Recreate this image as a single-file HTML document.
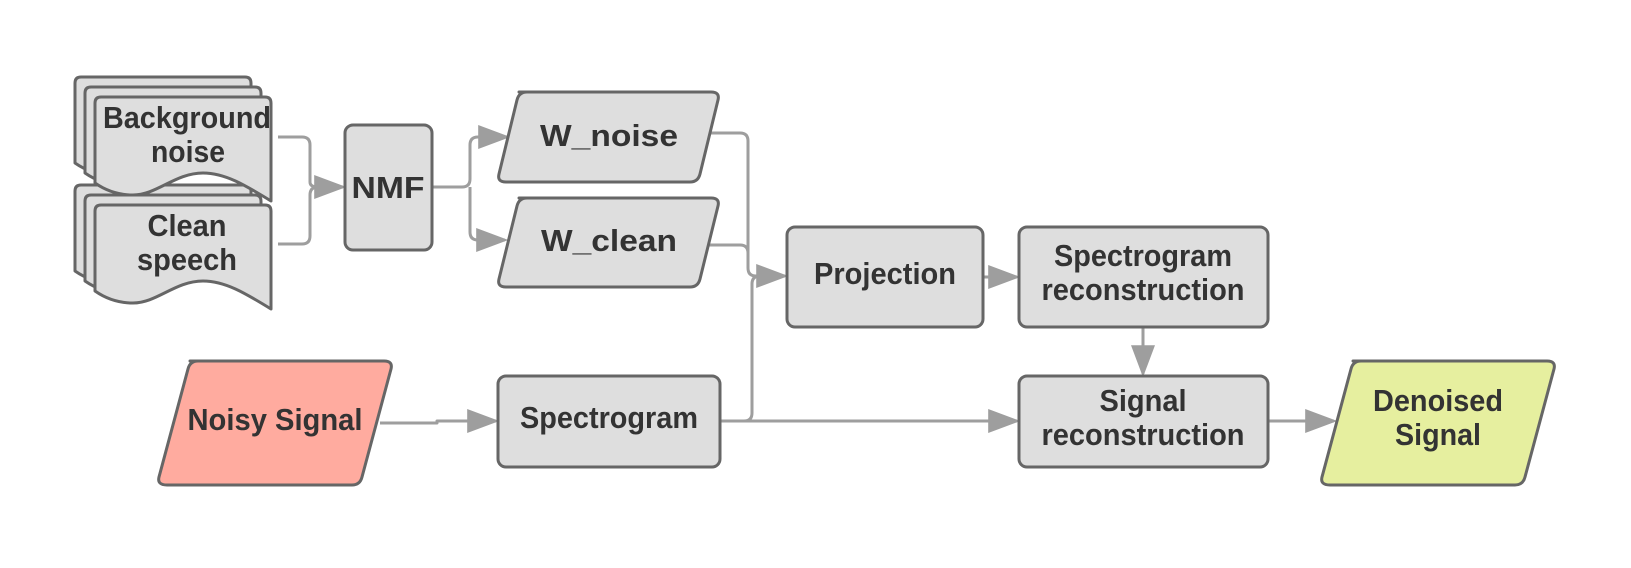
<!DOCTYPE html>
<html><head><meta charset="utf-8"><style>
html,body{margin:0;padding:0;background:#fff}
svg text{font-family:"Liberation Sans",sans-serif;font-weight:bold;fill:#333;font-size:31px;text-anchor:middle}
</style></head><body>
<svg width="1631" height="563" viewBox="0 0 1631 563" xmlns="http://www.w3.org/2000/svg">
<defs>
<marker id="b" viewBox="0 0 10 10" refX="9" refY="5" markerWidth="32" markerHeight="24" markerUnits="userSpaceOnUse" orient="auto" preserveAspectRatio="none">
<path d="M0,0 L10,5 L0,10 z" fill="#9e9e9e"/></marker>
<g id="doc"><path d="M0,6 Q0,0 6,0 H170 Q176,0 176,6 V104 C150,88 130,76 108,76 C80,76 62,98 38,98 C22,98 10,93 0,86 Z"/></g>
</defs>
<g fill="none" stroke="#9e9e9e" stroke-width="3" stroke-linejoin="round">
<path d="M278,137 H302 Q310,137 310,145 V182 Q310,187 318,187 H343" marker-end="url(#b)"/>
<path d="M278,244 H302 Q310,244 310,236 V195 Q310,187 318,187"/>
<path d="M432,187 H462 Q470,187 470,179 V145 Q470,137 478,137 H507" marker-end="url(#b)"/>
<path d="M470,187 V232 Q470,240 478,240 H505" marker-end="url(#b)"/>
<path d="M708,133 H740 Q748,133 748,141 V268 Q748,276 756,276 H785" marker-end="url(#b)"/>
<path d="M708,245 H740 Q748,245 748,253 V268"/>
<path d="M720,421 H744 Q752,421 752,413 V284 Q752,276 760,276"/>
<path d="M720,421 H1017" marker-end="url(#b)"/>
<path d="M380,423 H437 V421 H496" marker-end="url(#b)"/>
<path d="M983,277 H1017" marker-end="url(#b)"/>
<path d="M1143,327 V374" marker-end="url(#b)"/>
<path d="M1268,421 H1334" marker-end="url(#b)"/>
</g>
<g fill="#dedede" stroke="#666" stroke-width="3" stroke-linejoin="round">
<use href="#doc" x="75" y="185"/><use href="#doc" x="85" y="195"/><use href="#doc" x="95" y="205"/>
<use href="#doc" x="75" y="77"/><use href="#doc" x="85" y="87"/><use href="#doc" x="95" y="97"/>
<rect x="345" y="125" width="87" height="125" rx="8"/>
<path d="M519,92 H711 Q720,92 718,100 L700,174 Q698,182 690,182 H506 Q497,182 499,174 L517,100 Q519,92 527,92Z"/>
<path d="M519,198 H711 Q720,198 718,206 L700,279 Q698,287 690,287 H506 Q497,287 499,279 L517,206 Q519,198 527,198Z"/>
<rect x="787" y="227" width="196" height="100" rx="8"/>
<rect x="1019" y="227" width="249" height="100" rx="8"/>
<rect x="1019" y="376" width="249" height="91" rx="8"/>
<rect x="498" y="376" width="222" height="91" rx="8"/>
<path fill="#ffab9f" d="M190,361 H384 Q393,361 391,369 L362,477 Q360,485 352,485 H167 Q157,485 159,477 L188,369 Q190,361 198,361Z"/>
<path fill="#e6ef9f" d="M1353,361 H1547 Q1556,361 1554,369 L1525,477 Q1523,485 1515,485 H1330 Q1320,485 1322,477 L1351,369 Q1353,361 1361,361Z"/>
</g>
<g lengthAdjust="spacingAndGlyphs">
<text x="187" y="128" textLength="168" lengthAdjust="spacingAndGlyphs">Background</text>
<text x="188" y="162" textLength="74" lengthAdjust="spacingAndGlyphs">noise</text>
<text x="187" y="236" textLength="79" lengthAdjust="spacingAndGlyphs">Clean</text>
<text x="187" y="270" textLength="100" lengthAdjust="spacingAndGlyphs">speech</text>
<text x="388" y="198" font-size="33" textLength="73" lengthAdjust="spacingAndGlyphs">NMF</text>
<text x="609" y="146" font-size="33" textLength="138" lengthAdjust="spacingAndGlyphs">W_noise</text>
<text x="609" y="251" font-size="33" textLength="136" lengthAdjust="spacingAndGlyphs">W_clean</text>
<text x="885" y="284" textLength="142" lengthAdjust="spacingAndGlyphs">Projection</text>
<text x="1143" y="266" textLength="178" lengthAdjust="spacingAndGlyphs">Spectrogram</text>
<text x="1143" y="300" textLength="203" lengthAdjust="spacingAndGlyphs">reconstruction</text>
<text x="1143" y="411" textLength="87" lengthAdjust="spacingAndGlyphs">Signal</text>
<text x="1143" y="445" textLength="203" lengthAdjust="spacingAndGlyphs">reconstruction</text>
<text x="609" y="428" textLength="178" lengthAdjust="spacingAndGlyphs">Spectrogram</text>
<text x="275" y="430" textLength="175" lengthAdjust="spacingAndGlyphs">Noisy Signal</text>
<text x="1438" y="411" textLength="130" lengthAdjust="spacingAndGlyphs">Denoised</text>
<text x="1438" y="445" textLength="86" lengthAdjust="spacingAndGlyphs">Signal</text>
</g>
</svg>
</body></html>
